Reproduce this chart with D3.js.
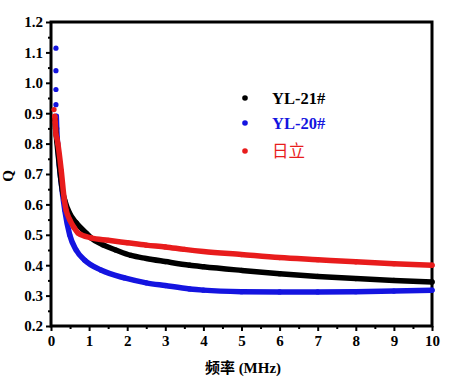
<!DOCTYPE html>
<html><head><meta charset="utf-8">
<script src="https://cdn.jsdelivr.net/npm/d3@7"></script>
<style>
body{margin:0;background:#fff;}
text{font-family:"Liberation Serif","Times New Roman","Noto Sans CJK SC",serif;font-weight:bold;}
</style></head><body>
<svg id="c" width="456" height="382"></svg>
<script>
const seriesNames = ["YL-21#", "YL-20#", "日立"];
const seriesColors = ["#000000", "#1414e0", "#e81c1c"];

const blackX = [0.1,0.12,0.15,0.2,0.25,0.3,0.36,0.49,0.66,0.92,1.05,1.36,1.7,2.1,2.5,3,3.64,4,5,6,7,8,9,10];
const blackY = [0.88,0.85,0.81,0.75,0.69,0.645,0.614,0.57,0.54,0.506,0.49,0.467,0.45,0.432,0.422,0.412,0.40,0.395,0.383,0.372,0.363,0.356,0.35,0.345];

const blueX = [0.13,0.13,0.13,0.13,0.14,0.15,0.18,0.22,0.26,0.36,0.49,0.66,0.88,1.31,1.93,2.5,3,3.64,4,5,6,7,8,9,10];
const blueY = [1.114,1.04,0.978,0.928,0.89,0.85,0.79,0.73,0.68,0.582,0.50,0.45,0.417,0.384,0.358,0.342,0.333,0.322,0.318,0.313,0.312,0.312,0.313,0.315,0.318];

const redX = [0.08,0.1,0.11,0.12,0.13,0.15,0.18,0.27,0.35,0.4,0.49,0.6,0.71,1.05,1.5,2,2.5,3,3.5,4,5,6,7,8,9,10];
const redY = [0.912,0.89,0.87,0.85,0.83,0.82,0.80,0.71,0.614,0.58,0.55,0.525,0.506,0.49,0.482,0.474,0.466,0.46,0.452,0.445,0.435,0.425,0.418,0.411,0.405,0.40];

const xTicks = [0,1,2,3,4,5,6,7,8,9,10];
const yTicks = [0.2,0.3,0.4,0.5,0.6,0.7,0.8,0.9,1.0,1.1,1.2];

const W = 456, H = 382;
const m = {l:51, r:24, t:22, b:56};
const FONT = "'Liberation Serif','Times New Roman',serif";
const svg = d3.select("#c");
const x = d3.scaleLinear().domain([0,10]).range([m.l, W - m.r]);
const y = d3.scaleLinear().domain([0.2,1.2]).range([H - m.b, m.t]);

// minor ticks
const gxm = svg.append("g").attr("transform",`translate(0,${H-m.b})`)
  .call(d3.axisBottom(x).tickValues(d3.range(0.5,10,1)).tickSize(3).tickFormat(""));
const gym = svg.append("g").attr("transform",`translate(${m.l},0)`)
  .call(d3.axisLeft(y).tickValues(d3.range(0.25,1.2,0.1)).tickSize(3).tickFormat(""));
// major
const gx = svg.append("g").attr("transform",`translate(0,${H-m.b})`)
  .call(d3.axisBottom(x).tickValues(xTicks).tickSize(5).tickPadding(4).tickFormat(d3.format("d")));
const gy = svg.append("g").attr("transform",`translate(${m.l},0)`)
  .call(d3.axisLeft(y).tickValues(yTicks).tickSize(5).tickPadding(3).tickFormat(d3.format(".1f")));
[gx,gy,gxm,gym].forEach(g=>{
  g.attr("font-family",FONT);
  g.select(".domain").remove();
  g.selectAll("line").attr("stroke","#000").attr("stroke-width",2);
  g.selectAll("text").attr("font-size",15).attr("fill","#000").style("font-family",FONT).style("font-weight","bold");
});
// frame
svg.append("rect").attr("x",m.l).attr("y",m.t).attr("width",W-m.r-m.l).attr("height",H-m.b-m.t)
  .attr("fill","none").attr("stroke","#000").attr("stroke-width",3);

const plot = svg.append("g");
const line = d3.line().x(d=>x(d[0])).y(d=>y(d[1])).curve(d3.curveMonotoneX);
const all = [
  {xs:blackX, ys:blackY, c:seriesColors[0], skip:0},
  {xs:blueX, ys:blueY, c:seriesColors[1], skip:4},
  {xs:redX, ys:redY, c:seriesColors[2], skip:1}
];
const order = [1,0,2];
order.forEach(i=>{
  const s = all[i];
  const pts = s.xs.map((v,k)=>[v,s.ys[k]]);
  plot.append("path").datum(pts.slice(s.skip))
    .attr("fill","none").attr("stroke",s.c).attr("stroke-width",5.5)
    .attr("stroke-linejoin","round").attr("stroke-linecap","round").attr("d",line);
  plot.selectAll(null).data(pts).enter().append("circle")
    .attr("cx",d=>x(d[0])).attr("cy",d=>y(d[1])).attr("r",2.6).attr("fill",s.c);
});

// legend
const leg = svg.append("g");
seriesNames.forEach((n,i)=>{
  const yy = [98,123,151][i];
  leg.append("circle").attr("cx",245).attr("cy",yy).attr("r",2.8).attr("fill",seriesColors[i]);
  leg.append("text").attr("x",272).attr("y",yy+5.5).attr("font-size",i===2?16.5:16.5)
    .attr("fill",seriesColors[i])
    .style("font-family", i===2 ? "'Noto Sans CJK SC',sans-serif" : FONT)
    .style("font-weight", i===2 ? "normal" : "bold")
    .text(n);
});

// axis titles
svg.append("text").attr("x",243).attr("y",373).attr("text-anchor","middle").attr("font-size",15)
  .style("font-family","'Liberation Serif','Noto Sans CJK SC',serif").text("频率 (MHz)");
svg.append("text").attr("transform","translate(13,176) rotate(-90)").attr("text-anchor","middle").attr("font-size",15)
  .style("font-family",FONT).text("Q");
</script></body></html>
